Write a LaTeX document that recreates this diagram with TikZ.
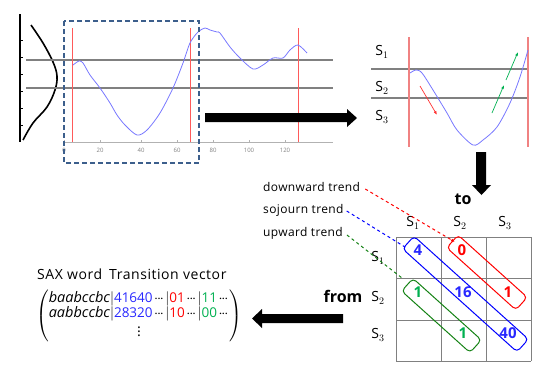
\documentclass[tikz,border=0pt]{standalone}
\usepackage{fontspec}
\setmainfont{Open Sans}
\usepackage{amsmath}
\usetikzlibrary{arrows.meta}
\definecolor{curveblue}{RGB}{120,120,255}
\definecolor{vred}{RGB}{255,90,90}
\definecolor{pred}{RGB}{240,130,130}
\definecolor{gline}{RGB}{128,128,128}
\definecolor{boxblue}{RGB}{60,95,140}
\definecolor{nblue}{RGB}{40,40,255}
\definecolor{ngreen}{RGB}{0,176,80}
\definecolor{bgreen}{RGB}{20,130,20}
\newcommand\mydots{\mkern2mu\mathord{\cdotp}\mkern-1.5mu\mathord{\cdotp}\mkern-1.5mu\mathord{\cdotp}\mkern2mu}
\newcommand\dg[2]{\textcolor{#1}{\text{\fontsize{13.5}{16}\selectfont #2}}}
\tikzset{
  sig/.style={curveblue, line width=0.8pt},
  redv/.style={vred, line width=0.7pt},
  grayh/.style={gline, line width=1.1pt},
  grid/.style={gline, line width=0.7pt},
  lbl/.style={inner sep=0pt, font=\fontsize{12}{14}\selectfont\addfontfeatures{LetterSpace=3}},
  slbl/.style={inner sep=0pt, font=\fontsize{14}{16}\selectfont},
  val/.style={inner sep=0pt, font=\fontsize{15}{17}\selectfont\bfseries},
  tick/.style={inner sep=0pt, font=\fontsize{6}{7}\selectfont, text=gray},
  diagbox/.style={draw, line width=1pt, rounded corners=4pt, minimum height=17pt, rotate=-42, inner sep=0pt},
  bigarrow/.style={fill=black},
}
\begin{document}
\begin{tikzpicture}[x=1pt,y=-1pt]
\useasboundingbox (0,0) rectangle (550,373);
% ---------------- left chart ----------------
\draw[line width=2pt] (20,14) -- (20,142);
\foreach \yy in {40,57,74,91,108,125} \draw[line width=1pt] (20,\yy) -- (23,\yy);
\draw[line width=1.6pt] plot[smooth, tension=0.6] coordinates {(31,25) (43,43) (53,62) (57,76) (55,90) (47,107) (33,123) (23,140)};
\draw[grayh] (26,60) -- (333,60);
\draw[grayh] (26,88) -- (333,88);
\draw[gray!60, line width=0.5pt] (64,142) -- (333,142);
\foreach \xx/\tt in {64/0,100/20,141/40,177/60,213/80,249/100,285/120} {
  \draw[gray!60, line width=0.5pt] (\xx,142) -- (\xx,140);
  \node[tick] (t\tt) at (\xx,150) {\tt};
}
\draw[redv] (72,28) -- (72,142);
\draw[redv] (190,28) -- (190,142);
\draw[redv] (298,28) -- (298,142);
\draw[sig] plot[smooth, tension=0.5] coordinates {(73,65) (79,61) (83,63) (90,75) (100,88) (110,103) (117,115) (125,125) (137,135) (147,130) (160,113) (173,88) (183,63) (190,43) (198,32) (205,28) (210,30) (217,32) (220,33) (230,47) (240,58) (253,69) (263,65) (273,58) (283,58) (290,50) (298,45) (307,53)};
\draw[boxblue, line width=1.6pt, dash pattern=on 5pt off 3pt] (64,21) rectangle (199,163);
% right arrow
\fill[bigarrow] (205,113) -- (347,113) -- (347,109) -- (357,118) -- (347,127) -- (347,122) -- (205,122) -- cycle;
% ---------------- small chart ----------------
\draw[grayh] (371,69) -- (529,69);
\draw[grayh] (371,98) -- (529,98);
\draw[pred, line width=1.5pt] (409,37) -- (409,147);
\draw[pred, line width=1.5pt] (528,37) -- (528,147);
\draw[sig] plot[smooth, tension=0.5] coordinates {(410,73) (416,70) (422,73) (433,90) (447,113) (457,130) (473,145) (483,140) (497,127) (510,103) (520,77) (528,50)};
\draw[red!80, line width=0.7pt, -{Latex[length=4pt,width=3pt]}] (420,86) -- (437,115);
\draw[ngreen, line width=0.7pt, -{Latex[length=4pt,width=3pt]}] (492,113) -- (504,85);
\draw[ngreen, line width=0.7pt, -{Latex[length=4pt,width=3pt]}] (506,80) -- (518,52);
\node[slbl] (s1) at (382,52) {S$_1$};
\node[slbl] (s2) at (382,88) {S$_2$};
\node[slbl] (s3) at (382,117) {S$_3$};
% down arrow
\fill[bigarrow] (476,152) -- (486,152) -- (486,185) -- (491,185) -- (481.5,195) -- (472,185) -- (476,185) -- cycle;
% ---------------- matrix ----------------
\foreach \xx in {396,441,486,531} \draw[grid] (\xx,237) -- (\xx,361);
\foreach \yy in {237,278,320,361} \draw[grid] (396,\yy) -- (531,\yy);
\node[slbl, font=\fontsize{16}{18}\selectfont\bfseries] (to) at (463,199) {to};
\node[slbl, font=\fontsize{16}{18}\selectfont\bfseries] (from) at (343,296) {from};
\node[slbl] (c1) at (413,223) {S$_1$};
\node[slbl] (c2) at (460,223) {S$_2$};
\node[slbl] (c3) at (505,223) {S$_3$};
\node[slbl] (r1) at (378,258) {S$_1$};
\node[slbl] (r2) at (378,298) {S$_2$};
\node[slbl] (r3) at (378,335) {S$_3$};
\node[val, text=nblue] (v11) at (418,250) {4};
\node[val, text=red] (v12) at (462,250) {0};
\node[val, text=ngreen] (v21) at (418,292) {1};
\node[val, text=nblue] (v22) at (463,292) {16};
\node[val, text=red] (v23) at (508,292) {1};
\node[val, text=ngreen] (v32) at (463,333) {1};
\node[val, text=nblue] (v33) at (508,333) {40};
\node[diagbox, blue, minimum width=154pt] (bbox) at (465.5,294) {};
\node[diagbox, red, minimum width=93pt] (rbox) at (487,272.5) {};
\node[diagbox, bgreen, minimum width=92pt] (gbox) at (441.5,315.5) {};
% trend labels
\node[lbl, anchor=west] (down) at (263,187) {downward trend};
\node[lbl, anchor=west] (soj) at (263,210) {sojourn trend};
\node[lbl, anchor=west] (up) at (263,233) {upward trend};
\coordinate (rend) at (455,242);
\coordinate (bend) at (405,247);
\coordinate (gend) at (402,278);
\draw[red, line width=1pt, dashed, -{Latex[length=4pt,width=3pt]}] (down.east) ++(5,2) -- (rend);
\draw[blue, line width=1pt, dashed] (soj.east) ++(3,1) -- (bend);
\draw[bgreen, line width=1pt, dashed] (up.east) ++(4,2) -- (gend);
% left arrow
\fill[bigarrow] (343,314) -- (262,314) -- (262,309) -- (252,318.5) -- (262,328) -- (262,323) -- (343,323) -- cycle;
% ---------------- SAX ----------------
\node[inner sep=0pt, anchor=west, font=\fontsize{14}{16}\selectfont\addfontfeatures{LetterSpace=4}] (hdr) at (37,274) {SAX word\enspace Transition vector};
\node[inner sep=0pt, anchor=west, font=\fontsize{14.5}{16}\selectfont] (sax) at (36,316)
{\renewcommand\arraystretch{0.95}$\left(\begin{array}{@{}l@{}}
\mathit{baabccbc}|\dg{nblue}{41640}\mydots|\dg{red}{01}\mydots|\dg{ngreen}{11}\mydots\\
\mathit{aabbccbc}|\dg{nblue}{28320}\mydots|\dg{red}{10}\mydots|\dg{ngreen}{00}\mydots\\[-2pt]
\hphantom{\mathit{aabbccbc}|\text{\fontsize{13.5}{16}\selectfont 283}}\vdots
\end{array}\right)$};
\end{tikzpicture}
\end{document}
